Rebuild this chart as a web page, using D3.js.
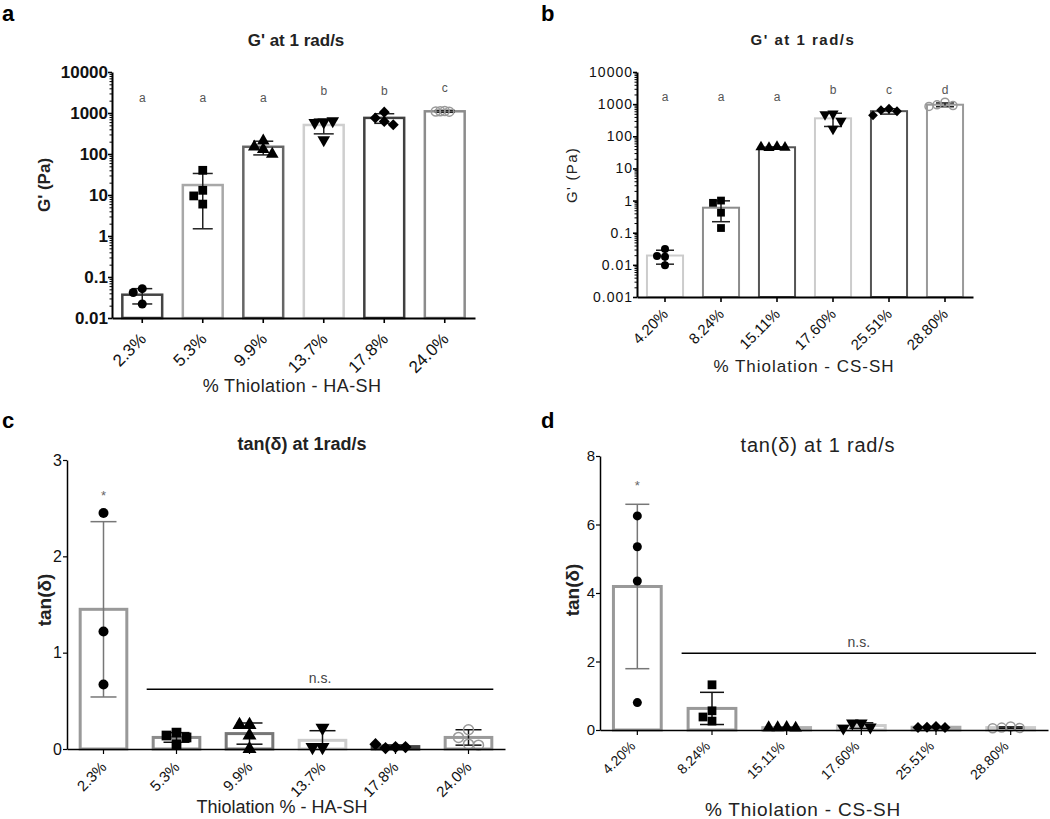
<!DOCTYPE html>
<html><head><meta charset="utf-8">
<script src="https://cdn.jsdelivr.net/npm/d3@7"></script>
<style>body{margin:0;background:#fff} svg{display:block} text{font-family:"Liberation Sans",Arial,sans-serif}</style>
</head><body><svg id="chart" width="1050" height="819"></svg>
<script>
// ---------- DATA ----------
const haCategories = ["2.3%","5.3%","9.9%","13.7%","17.8%","24.0%"];
const csCategories = ["4.20%","8.24%","15.11%","17.60%","25.51%","28.80%"];
const markerShapes = ["circle","square","triangle","triangleDown","diamond","open"];

// a: G' at 1 rad/s, HA-SH (log)
const aMeans  = [0.037, 17.5, 150, 510, 760, 1100];
const aSD     = [0.015, 16, 55, 200, 200, 60];
const aPoints = [[0.052,0.042,0.022],[40,13,9.5,6],[210,150,130,100],[600,580,640,220],[1050,760,620,520],[1120,1100,1080,1090]];
const aLetters = ["a","a","a","b","b","c"];
const aLetterLevel = [1900,1900,1900,2700,2700,3200];
const aTicks = [0.01,0.1,1,10,100,1000,10000];
const aTickLabels = ["0.01","0.1","1","10","100","1000","10000"];

// b: G' at 1 rad/s, CS-SH (log)
const bMeans  = [0.0195, 0.6, 45.5, 362, 605, 960];
const bSD     = [0.009, 0.38, 1, 160, 115, 130];
const bPoints = [[0.031,0.019,0.018,0.0098],[1.0,0.85,0.42,0.14],[47,44,45,46],[500,480,300,170],[720,650,600,450],[1150,950,900,850]];
const bLetters = ["a","a","a","b","c","d"];
const bLetterLevel = [1250,1250,1250,2050,2050,2050];
const bTicks = [0.001,0.01,0.1,1,10,100,1000,10000];
const bTickLabels = ["0.001","0.01","0.1","1","10","100","1000","10000"];

// c: tan(delta) at 1 rad/s, HA-SH
const cMeans  = [1.45, 0.12, 0.16, 0.09, 0.025, 0.12];
const cSD     = [0.91, 0.05, 0.11, 0.10, 0.017, 0.08];
const cPoints = [[2.45,1.22,0.67],[0.17,0.14,0.12,0.05],[0.25,0.25,0.14,0.0],[0.22,0.02,0.02],[0.02,0.01,0.02,0.05],[0.2,0.12,0.05,0.04]];
const cTicks = [0,1,2,3];
const cStarLevel = 2.64;
const cNsLevel = 0.62;

// d: tan(delta) at 1 rad/s, CS-SH
const dMeans  = [4.19, 0.63, 0.07, 0.13, 0.08, 0.07];
const dSD     = [2.4, 0.47, 0.01, 0.08, 0.015, 0.02];
const dPoints = [[6.25,5.35,4.35,0.8],[1.32,0.56,0.38,0.26],[0.08,0.07,0.06,0.07],[0.2,0.2,0.08,0.05],[0.1,0.08,0.07,0.07],[0.1,0.07,0.06,0.05]];
const dTicks = [0,2,4,6,8];
const dStarLevel = 7.15;
const dNsLevel = 2.24;

// ---------- DRAW ----------
const svg = d3.select("#chart");

function markerPath(shape, r) {
  const s = r * r * 4;
  switch (shape) {
    case "circle": case "open": return d3.symbol(d3.symbolCircle, Math.PI * r * r)();
    case "square": return d3.symbol(d3.symbolSquare, s * 0.95)();
    case "triangle": case "triangleDown": return d3.symbol(d3.symbolTriangle, s * 0.85)();
    case "diamond": return d3.symbol(d3.symbolSquare, s * 0.75)();
  }
}
function markerRot(shape) { return shape === "triangleDown" ? 180 : shape === "diamond" ? 45 : 0; }

function swarm(vals, cx, y, r, tight) {
  const placed = [];
  const minD = tight ? r : 2 * r - 0.5;
  const step = tight ? r : 2 * r;
  const offs = [0];
  for (let i = 1; i < 8; i++) offs.push(-i * step, i * step);
  return vals.map(v => {
    const py = y(v);
    let px = cx;
    for (const o of offs) {
      if (placed.every(p => Math.hypot(p[0] - (cx + o), p[1] - py) >= minD)) { px = cx + o; break; }
    }
    placed.push([px, py]);
    return [px, py];
  });
}

function panel(cfg) {
  const g = svg.append("g");
  const x = d3.scaleBand().domain(cfg.cats).range(cfg.xr).paddingInner(cfg.pad).paddingOuter(cfg.pad / 2);
  const y = cfg.log ? d3.scaleLog().domain(cfg.yd).range(cfg.yr) : d3.scaleLinear().domain(cfg.yd).range(cfg.yr);
  const y0 = cfg.yr[0];
  const bw = x.bandwidth();

  // bars
  cfg.cats.forEach((c, i) => {
    const top = y(cfg.means[i]);
    g.append("rect")
      .attr("x", x(c) + cfg.barW / 2).attr("y", top)
      .attr("width", bw - cfg.barW).attr("height", y0 - top)
      .attr("fill", "#fff").attr("stroke", cfg.barColors[i]).attr("stroke-width", cfg.barW);
  });

  // error bars
  cfg.cats.forEach((c, i) => {
    const cx = x(c) + bw / 2;
    const m = cfg.means[i], s = cfg.sd[i];
    const hi = y(m + s);
    let loV = m - s, clipped = false;
    if (loV <= cfg.yd[0]) { loV = cfg.yd[0]; clipped = true; }
    const lo = y(loV);
    const col = cfg.errColors[i];
    g.append("line").attr("x1", cx).attr("x2", cx).attr("y1", hi).attr("y2", lo).attr("stroke", col).attr("stroke-width", cfg.errW);
    g.append("line").attr("x1", cx - cfg.cap / 2).attr("x2", cx + cfg.cap / 2).attr("y1", hi).attr("y2", hi).attr("stroke", col).attr("stroke-width", cfg.errW);
    if (!clipped) g.append("line").attr("x1", cx - cfg.cap / 2).attr("x2", cx + cfg.cap / 2).attr("y1", lo).attr("y2", lo).attr("stroke", col).attr("stroke-width", cfg.errW);
  });

  // points
  cfg.cats.forEach((c, i) => {
    const cx = x(c) + bw / 2;
    const shape = markerShapes[i];
    const pos = swarm(cfg.points[i], cx, y, cfg.r, cfg.tightOpen && shape === "open");
    pos.forEach(p => {
      g.append("path").attr("d", markerPath(shape, cfg.r))
        .attr("transform", `translate(${p[0]},${p[1]}) rotate(${markerRot(shape)})`)
        .attr("fill", shape === "open" ? "#fff" : "#000")
        .attr("fill-opacity", shape === "open" ? 0 : 1)
        .attr("stroke", shape === "open" ? "#999" : "none")
        .attr("stroke-width", 1.5);
    });
  });

  // y axis
  const ya = g.append("g").attr("transform", `translate(${cfg.xr[0]},0)`)
    .call(d3.axisLeft(y).tickValues(cfg.ticks).tickFormat((d, i) => cfg.tickLabels ? cfg.tickLabels[i] : d3.format("d")(d)).tickSize(4).tickPadding(cfg.yPad).tickSizeOuter(0));
  ya.select(".domain").attr("stroke", "#000").attr("stroke-width", cfg.axW);
  ya.selectAll(".tick line").attr("stroke", "#000").attr("stroke-width", cfg.axW * 0.8);
  ya.selectAll("text").attr("fill", "#111").style("font-size", cfg.yFont + "px").style("font-weight", cfg.yBold ? "bold" : "normal").style("letter-spacing", (cfg.yLs || 0) + "px");
  if (cfg.log) {
    const minor = [];
    for (let k = 0; k < cfg.ticks.length - 1; k++) for (let m = 2; m <= 9; m++) minor.push(cfg.ticks[k] * m);
    const ym = g.append("g").attr("transform", `translate(${cfg.xr[0]},0)`)
      .call(d3.axisLeft(y).tickValues(minor).tickFormat("").tickSize(2.5).tickSizeOuter(0));
    ym.select(".domain").remove();
    ym.selectAll(".tick line").attr("stroke", "#000").attr("stroke-width", 1);
  }

  // x axis
  const xa = g.append("g").attr("transform", `translate(0,${y0})`)
    .call(d3.axisBottom(x).tickSize(5).tickSizeOuter(0));
  xa.select(".domain").attr("stroke", "#000").attr("stroke-width", cfg.axW);
  xa.selectAll(".tick line").attr("stroke", "#000").attr("stroke-width", cfg.axW * 0.8);
  xa.selectAll("text").attr("y", null).attr("dy", null).attr("x", null)
    .attr("transform", `translate(${cfg.xlOff[0]},${cfg.xlOff[1]}) rotate(-45)`)
    .style("text-anchor", "end").attr("fill", "#111")
    .style("font-size", cfg.xFont + "px").style("letter-spacing", (cfg.xLs || 0) + "px");

  // significance letters
  if (cfg.letters) cfg.cats.forEach((c, i) => {
    g.append("text").attr("x", x(c) + bw / 2).attr("y", y(cfg.letterLevel[i]))
      .attr("text-anchor", "middle").attr("fill", "#555").style("font-size", "12px").text(cfg.letters[i]);
  });
  if (cfg.star !== undefined) {
    g.append("text").attr("x", x(cfg.cats[0]) + bw / 2).attr("y", y(cfg.star) + 5)
      .attr("text-anchor", "middle").attr("fill", "#666").style("font-size", "13px").text("*");
  }
  if (cfg.ns !== undefined) {
    const x1 = x(cfg.cats[1]) - 5, x2 = x(cfg.cats[5]) + bw;
    g.append("line").attr("x1", x1).attr("x2", x2).attr("y1", y(cfg.ns)).attr("y2", y(cfg.ns)).attr("stroke", "#000").attr("stroke-width", 1.5);
    g.append("text").attr("x", (x1 + x2) / 2).attr("y", y(cfg.ns) - 6).attr("text-anchor", "middle")
      .attr("fill", "#444").style("font-size", "14px").text("n.s.");
  }

  // titles & labels
  const t = cfg.title;
  g.append("text").attr("x", t.x).attr("y", t.y).attr("text-anchor", "middle").attr("fill", "#222")
    .style("font-size", t.size + "px").style("font-weight", t.bold ? "bold" : "normal").style("letter-spacing", (t.ls || 0) + "px").text(t.text);
  const yl = cfg.yLabel;
  g.append("text").attr("transform", `translate(${yl.x},${yl.y}) rotate(-90)`).attr("text-anchor", "middle").attr("fill", "#222")
    .style("font-size", yl.size + "px").style("font-weight", yl.bold ? "bold" : "normal").style("letter-spacing", (yl.ls || 0) + "px").text(yl.text);
  const xl = cfg.xLabel;
  g.append("text").attr("x", xl.x).attr("y", xl.y).attr("text-anchor", "middle").attr("fill", "#222")
    .style("font-size", xl.size + "px").style("font-weight", xl.bold ? "bold" : "normal").style("letter-spacing", (xl.ls || 0) + "px").text(xl.text);
  g.append("text").attr("x", cfg.tag.x).attr("y", cfg.tag.y).attr("fill", "#000")
    .style("font-size", "22px").style("font-weight", "bold").text(cfg.tag.text);
}

panel({
  cats: haCategories, means: aMeans, sd: aSD, points: aPoints, log: true,
  xr: [112, 475], yd: [0.01, 10000], yr: [318, 72], pad: 0.3,
  ticks: aTicks, tickLabels: aTickLabels, yPad: 0, yFont: 17, yBold: true,
  barColors: ["#444", "#a8a8a8", "#666", "#cfcfcf", "#404040", "#8c8c8c"], barW: 2.5,
  errColors: ["#222","#222","#222","#222","#222","#222"], errW: 1.5, cap: 20, r: 4.5, axW: 2,
  xlOff: [5, 22], xFont: 17, tightOpen: true,
  letters: aLetters, letterLevel: aLetterLevel,
  title: {text: "G' at 1 rad/s", x: 296, y: 46, size: 17, bold: true},
  yLabel: {text: "G' (Pa)", x: 50, y: 185, size: 17, bold: true},
  xLabel: {text: "% Thiolation - HA-SH", x: 292, y: 392, size: 18, ls: 0.4},
  tag: {text: "a", x: 2, y: 21}
});

panel({
  cats: csCategories, means: bMeans, sd: bSD, points: bPoints, log: true,
  xr: [637, 973], yd: [0.001, 10000], yr: [297, 72], pad: 0.32,
  ticks: bTicks, tickLabels: bTickLabels, yPad: 0, yFont: 14, yLs: 1,
  barColors: ["#cccccc", "#8c8c8c", "#555", "#cccccc", "#555", "#9a9a9a"], barW: 2,
  errColors: ["#222","#222","#222","#222","#222","#222"], errW: 1.5, cap: 18, r: 4, axW: 2,
  xlOff: [4, 18], xFont: 15,
  letters: bLetters, letterLevel: bLetterLevel,
  title: {text: "G' at 1 rad/s", x: 803, y: 45, size: 15, bold: true, ls: 1.5},
  yLabel: {text: "G' (Pa)", x: 577, y: 175, size: 15, ls: 1.3},
  xLabel: {text: "% Thiolation - CS-SH", x: 804, y: 372, size: 17, ls: 1},
  tag: {text: "b", x: 541, y: 21}
});

panel({
  cats: haCategories, means: cMeans, sd: cSD, points: cPoints, log: false,
  xr: [67, 505], yd: [0, 3], yr: [749, 460], pad: 0.32,
  ticks: cTicks, yPad: 1, yFont: 16,
  barColors: ["#999", "#8c8c8c", "#777", "#cccccc", "#444", "#9a9a9a"], barW: 3,
  errColors: ["#777","#111","#111","#111","#111","#111"], errW: 1.5, cap: 26, r: 5, axW: 1.5,
  xlOff: [4, 19], xFont: 15,
  star: cStarLevel, ns: cNsLevel,
  title: {text: "tan(δ) at 1rad/s", x: 302, y: 450, size: 18, bold: true},
  yLabel: {text: "tan(δ)", x: 51, y: 600, size: 19, bold: true},
  xLabel: {text: "Thiolation % - HA-SH", x: 282, y: 813, size: 18},
  tag: {text: "c", x: 2, y: 428}
});

panel({
  cats: csCategories, means: dMeans, sd: dSD, points: dPoints, log: false,
  xr: [600, 1048], yd: [0, 8], yr: [730, 456], pad: 0.32,
  ticks: dTicks, yPad: 1, yFont: 15,
  barColors: ["#999", "#999", "#b0b0b0", "#cccccc", "#aaa", "#cccccc"], barW: 3,
  errColors: ["#777","#111","#111","#111","#111","#111"], errW: 1.5, cap: 24, r: 4.5, axW: 1.5,
  xlOff: [-1, 17], xFont: 14,
  star: dStarLevel, ns: dNsLevel,
  title: {text: "tan(δ) at 1 rad/s", x: 818, y: 452, size: 20, ls: 0.8},
  yLabel: {text: "tan(δ)", x: 579, y: 590, size: 19, bold: true},
  xLabel: {text: "% Thiolation - CS-SH", x: 803, y: 816, size: 19, ls: 0.8},
  tag: {text: "d", x: 541, y: 428}
});
</script></body></html>
